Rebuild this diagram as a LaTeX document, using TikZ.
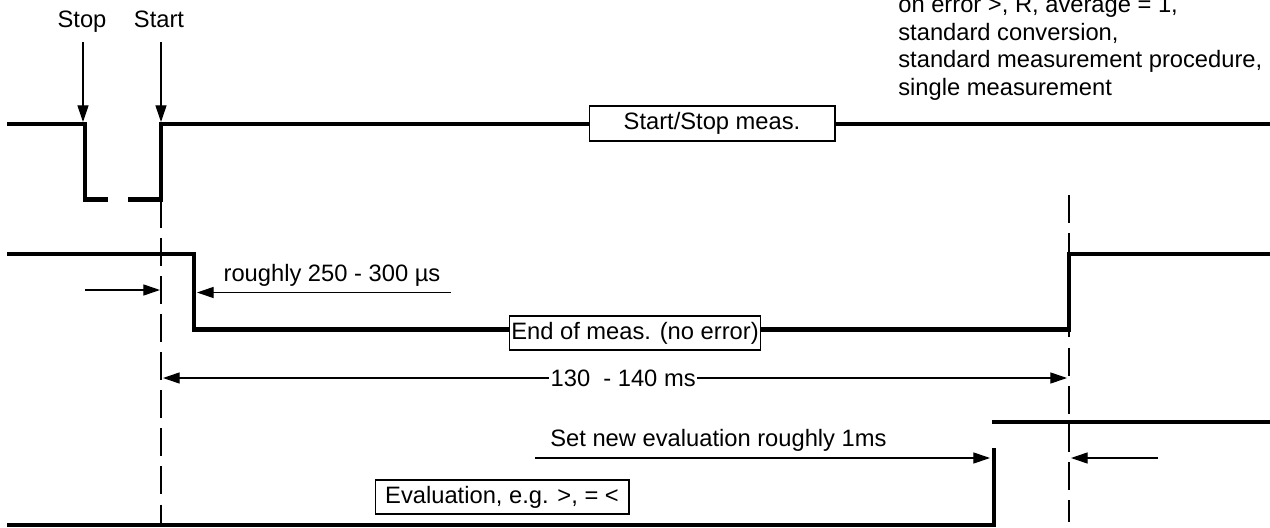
\documentclass[tikz,border=0pt]{standalone}
\usepackage{fontspec}
\setmainfont{Liberation Sans}
\usetikzlibrary{arrows.meta,positioning}

\tikzset{
  sig/.style={line width=2.8pt},
  guide/.style={line width=1.1pt, dash pattern=on 16pt off 5.7pt},
  dimarrow/.style={line width=0.7pt, -{Triangle[length=9.5pt,width=6.3pt]}},
  dimboth/.style={line width=0.7pt, {Triangle[length=9.5pt,width=6.3pt]}-{Triangle[length=9.5pt,width=6.3pt]}},
  lbl/.style={font=\fontsize{13.5}{14.6}\selectfont, inner sep=0pt},
  sigbox/.style={lbl, draw, line width=0.6pt, fill=white, inner xsep=1pt, minimum height=0.68cm}
}

\begin{document}
\begin{tikzpicture}[x=0.02cm, y=-0.02cm]
  \useasboundingbox (0,0) rectangle (1270,527);
  \clip (0,0) rectangle (1270,527);

  % conditions, first line cut off at the top
  \node[lbl, font=\fontsize{13.5}{15.65}\selectfont, align=left, anchor=base west] (setup) at (898,95)
    {on error >, R, average = 1,\\standard conversion,\\standard measurement procedure,\\single measurement};

  % start/stop input
  \draw[sig] (7,124) -- (85,124) -- (85,199.5) -- (108,199.5);
  \draw[sig] (128,199.5) -- (161,199.5) -- (161,124) -- (1270,124);
  \node[sigbox, minimum width=4.92cm, minimum height=0.7cm] (startstop) at (712,123.5) {Start/Stop meas.};

  \node[lbl, anchor=base, text depth=0pt] (stop)  at (82,28) {Stop};
  \node[lbl, anchor=base, text depth=0pt] (start) at (159,28) {Start};
  \coordinate (stopedge)  at (83,122);
  \coordinate (startedge) at (161,122);
  \draw[dimarrow, shorten <=8pt] (stop.south -| stopedge) -- (stopedge);
  \draw[dimarrow, shorten <=8pt] (start.south -| startedge) -- (startedge);

  % end of measurement output
  \draw[sig] (7,254) -- (194,254) -- (194,329.5) -- (1069,329.5) -- (1069,254) -- (1270,254);
  \node[sigbox, minimum width=4.92cm] (endmeas) at (635,333) {End of meas. (no error)};

  % evaluation output
  \draw[sig] (7,525) -- (994,525) -- (994,448);
  \draw[sig] (992,422) -- (1270,422);
  \node[sigbox, minimum width=5.08cm] (evalbox) at (502,497) {Evaluation, e.g. >, = <};

  % guides
  \coordinate (gA) at (161,199.5);
  \coordinate (gB) at (1069,195);
  \draw[guide] (gA) -- (161,525);
  \draw[guide] (gB) -- (1069,522);

  % delay after start
  \coordinate (usL) at (85,290);
  \coordinate (usR) at (451,292.5);
  \coordinate (fallA) at (197,292.5);
  \draw[dimarrow] (usL) -- (160,290);
  \draw[dimarrow] (usR) -- (fallA);
  \node[lbl] (usec) at (332,275) {roughly 250 - 300 µs};

  % measurement time
  \coordinate (msL) at (163,378);
  \coordinate (msR) at (1067,378);
  \draw[dimboth] (msL) -- node[lbl, fill=white, inner xsep=1pt, pos=0.509] (msdim) {130~ - 140 ms} (msR);

  % new evaluation
  \node[lbl, anchor=base west] (setnew) at (550,446) {Set new evaluation roughly 1ms};
  \coordinate (setL) at (535,458);
  \coordinate (setT) at (990,458);
  \coordinate (setR) at (1158,458);
  \coordinate (setB) at (1071,458);
  \draw[dimarrow] (setL) -- (setT);
  \draw[dimarrow] (setR) -- (setB);
\end{tikzpicture}
\end{document}
